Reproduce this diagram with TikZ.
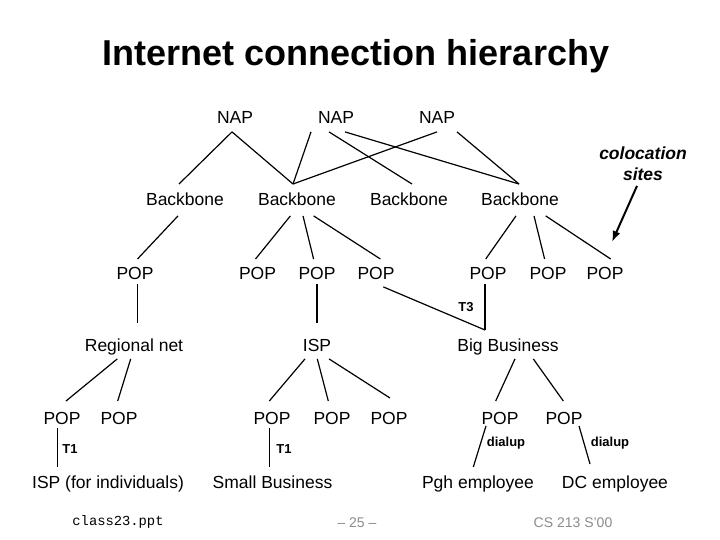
\documentclass[tikz,border=0pt]{standalone}
\usepackage{fontspec}
\setmainfont{Liberation Sans}
\setmonofont{Liberation Mono}
\usetikzlibrary{arrows.meta}
\definecolor{footgray}{RGB}{140,140,140}
\newcommand\lnk[6]{\draw[conn] ([xshift=#2pt,yshift=-#3pt]#1.south) -- ([xshift=#5pt,yshift=#6pt]#4.north);}
\tikzset{
  lab/.style={font=\fontsize{17.5}{20}\selectfont, inner sep=0pt, text height=12.5pt, text depth=0pt, anchor=north},
  smalllab/.style={font=\fontsize{13}{15}\selectfont\bfseries, inner sep=0pt},
  coloc/.style={font=\fontsize{17.5}{20}\selectfont\bfseries\itshape, inner sep=0pt, text height=12.5pt, text depth=0pt, anchor=north},
  conn/.style={line width=1.2pt, black},
  foot/.style={font=\fontsize{14}{16}\selectfont, text=footgray, inner sep=0pt, anchor=base},
}
\begin{document}
\begin{tikzpicture}[x=1pt,y=-1pt]
\fill[white] (0,0) rectangle (720,540);
\useasboundingbox (0,0) rectangle (720,540);

\node[font=\fontsize{36}{40}\selectfont\bfseries, inner sep=0pt, anchor=base] (title) at (356,65.5) {Internet connection hierarchy};

% NAPs
\node[lab] (nap1) at (235,111) {NAP};
\node[lab] (nap2) at (336,111) {NAP};
\node[lab] (nap3) at (437,111) {NAP};
% Backbones
\node[lab] (bb1) at (185,193) {Backbone};
\node[lab] (bb2) at (297,193) {Backbone};
\node[lab] (bb3) at (409,193) {Backbone};
\node[lab] (bb4) at (520,193) {Backbone};
% POP row 1
\node[lab] (p1) at (135,267) {POP};
\node[lab] (p2) at (257.5,267) {POP};
\node[lab] (p3) at (317,267) {POP};
\node[lab] (p4) at (376,267) {POP};
\node[lab] (p5) at (488,267) {POP};
\node[lab] (p6) at (548,267) {POP};
\node[lab] (p7) at (605,267) {POP};
% level 4
\node[lab] (reg) at (134,339) {Regional net};
\node[lab] (isp) at (317,339) {ISP};
\node[lab] (big) at (508,339) {Big Business};
% POP row 2
\node[lab] (pa) at (62,412) {POP};
\node[lab] (pb) at (119,412) {POP};
\node[lab] (pc) at (272,412) {POP};
\node[lab] (pd) at (332,412) {POP};
\node[lab] (pe) at (389,412) {POP};
\node[lab] (pf) at (500,412) {POP};
\node[lab] (pg) at (564,412) {POP};
% bottom
\node[lab] (isp2) at (108,476) {ISP (for individuals)};
\node[lab] (small) at (272.5,476) {Small Business};
\node[lab] (pgh) at (478,476) {Pgh employee};
\node[lab] (dc) at (615,476) {DC employee};

% colocation
\node[coloc] (coloc1) at (643,147) {colocation};
\node[coloc] (sites) at (643,168) {sites};

% small labels
\node[smalllab] (t3) at (466,307.5) {T3};
\node[smalllab] (t1a) at (70,449) {T1};
\node[smalllab] (t1b) at (284,449) {T1};
\node[smalllab] (dial1) at (506,443.5) {dialup};
\node[smalllab] (dial2) at (610,443.5) {dialup};

% footer
\node[font=\fontsize{13.8}{16}\ttfamily, inner sep=0pt, anchor=base] (file) at (118,525) {class23.ppt};
\node[foot] (page) at (357,527) {– 25 –};
\node[foot] (course) at (573,527) {CS 213 S'00};

% NAP -> Backbone
\lnk{nap1}{-3}{8}{bb1}{-6}{9}
\lnk{nap1}{-3}{8}{bb2}{-4}{9}
\lnk{nap2}{-25}{8}{bb2}{-4}{9}
\lnk{nap2}{-7}{8}{bb3}{3}{9}
\lnk{nap2}{9}{8}{bb4}{-1}{9}
\lnk{nap3}{0}{8}{bb2}{-4}{9}
\lnk{nap3}{20}{8}{bb4}{-1}{9}
% Backbone -> POP
\lnk{bb1}{-7}{10}{p1}{2.5}{8}
\lnk{bb2}{-6.6}{10}{p2}{-2}{8}
\lnk{bb2}{6}{10}{p3}{-3.4}{8}
\lnk{bb2}{16.6}{10}{p4}{4.4}{8}
\lnk{bb4}{-4}{10}{p5}{-2.3}{8}
\lnk{bb4}{14}{10}{p6}{-3.4}{8}
\lnk{bb4}{25.7}{10}{p7}{5.7}{8}
% POP -> level 4
\lnk{p1}{2.3}{4}{reg}{3.3}{16}
\lnk{p3}{0}{4}{isp}{0}{16}
\lnk{p5}{-3}{4}{big}{-23}{9}
\lnk{p4}{7.3}{7}{big}{-23}{9}
% level 4 -> POP row 2
\lnk{reg}{-16.7}{7}{pa}{4}{11}
\lnk{reg}{-3.3}{7}{pb}{-1.3}{11}
\lnk{isp}{-12}{7}{pc}{-2.7}{11}
\lnk{isp}{0.3}{7}{pd}{-3.7}{11}
\lnk{isp}{12}{7}{pe}{1}{14}
\lnk{big}{7}{7}{pf}{-4.3}{11}
\lnk{big}{25.3}{7}{pg}{-0.7}{11}
% POP row 2 -> bottom
\lnk{pa}{-4.7}{3.5}{isp2}{-50.7}{9}
\lnk{pc}{-2.7}{3.5}{small}{-3.2}{9}
\lnk{pf}{-14}{1}{pgh}{-4.7}{9}
\lnk{pg}{15}{1}{dc}{-25}{12}

% colocation arrow
\draw[line width=2pt,-{Latex[length=11pt,width=8pt]}] ([xshift=-6pt,yshift=-5pt]sites.south) -- ([xshift=7pt,yshift=25pt]p7.north);
\end{tikzpicture}
\end{document}
